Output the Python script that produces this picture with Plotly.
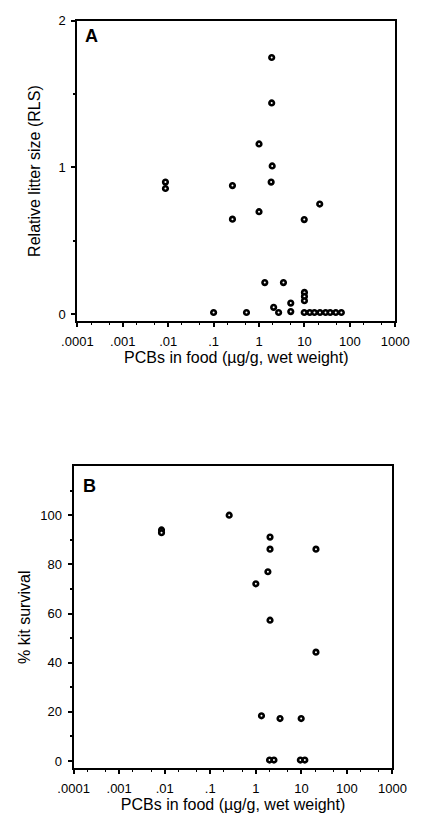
import plotly.graph_objects as go

# Panel A: relative litter size vs PCBs in food
a_pcb = [1.9, 1.9, 1.0, 1.95, 1.85, 0.0087, 0.0087, 0.26, 21.7,
         0.26, 1.0, 9.9, 1.34, 3.45, 10, 10, 10, 5.0, 5.0,
         0.1, 0.53, 2.1, 2.7,
         9.9, 13.1, 16.6, 22, 29.2, 36.9, 49, 65]
a_rls = [1.75, 1.44, 1.16, 1.01, 0.90, 0.90, 0.856, 0.876, 0.75,
         0.647, 0.698, 0.644, 0.214, 0.214, 0.147, 0.12, 0.09, 0.074, 0.016,
         0.01, 0.01, 0.045, 0.01,
         0.01, 0.01, 0.01, 0.01, 0.01, 0.01, 0.01, 0.01]

# Panel B: % kit survival vs PCBs in food
b_pcb = [0.0085, 0.0085, 0.26, 2.05, 2.05, 20.9, 1.84, 1.0,
         2.05, 20.9, 1.33, 3.4, 9.9, 2.0, 2.5, 9.5, 11.9]
b_surv = [94.0, 92.9, 100, 91.1, 86.2, 86.2, 77, 72.1,
          57.3, 44.3, 18.4, 17.3, 17.3, 0.4, 0.4, 0.4, 0.4]

x_tickvals = [0.0001, 0.001, 0.01, 0.1, 1, 10, 100, 1000]
x_ticktext = [".0001", ".001", ".01", ".1", "1", "10", "100", "1000"]
xtitle = "PCBs in food (µg/g, wet weight)"

FONT = "Liberation Sans, Arial, Helvetica, sans-serif"
W, H = 426, 819

marker = dict(symbol="circle", size=4.6, color="white",
              line=dict(color="black", width=2.6))

fig = go.Figure()
fig.add_trace(go.Scatter(x=a_pcb, y=a_rls, mode="markers", marker=marker,
                         xaxis="x", yaxis="y", showlegend=False))
fig.add_trace(go.Scatter(x=b_pcb, y=b_surv, mode="markers", marker=marker,
                         xaxis="x2", yaxis="y2", showlegend=False))

common_x = dict(type="log", range=[-4, 3], tickvals=x_tickvals, ticktext=x_ticktext,
                showline=True, linecolor="black", linewidth=2, mirror=True,
                ticks="outside", ticklen=4, tickcolor="black", tickwidth=1.5,
                showgrid=False, zeroline=False, ticklabelstandoff=3,
                tickfont=dict(family=FONT, size=13, color="black"),
                minor=dict(ticks="outside", ticklen=2, tickcolor="black", tickwidth=1),
                title=dict(text=xtitle, font=dict(family=FONT, size=16, color="black"),
                           standoff=4))
common_y = dict(showline=True, linecolor="black", linewidth=2, mirror=True,
                ticks="outside", ticklen=4, tickcolor="black", tickwidth=1.5,
                showgrid=False, zeroline=False, ticklabelstandoff=3,
                tickfont=dict(family=FONT, size=13, color="black"))

fig.update_layout(
    width=W, height=H,
    margin=dict(l=0, r=0, t=0, b=0),
    paper_bgcolor="white", plot_bgcolor="white",
    xaxis=dict(common_x, domain=[66 / W, 408 / W], anchor="y"),
    yaxis=dict(common_y, domain=[(H - 317) / H, (H - 14) / H], anchor="x",
               range=[-0.05, 2], tickvals=[0, 1, 2], ticktext=["0", "1", "2"],
               minor=dict(tickvals=[0.5, 1.5], ticks="outside", ticklen=2,
                          tickcolor="black"),
               title=dict(text="Relative litter size (RLS)",
                          font=dict(family=FONT, size=16, color="black"), standoff=14)),
    xaxis2=dict(common_x, domain=[62 / W, 405 / W], anchor="y2"),
    yaxis2=dict(common_y, domain=[(H - 768) / H, (H - 463) / H], anchor="x2",
                range=[-3, 120], tickvals=[0, 20, 40, 60, 80, 100],
                minor=dict(tickvals=[10, 30, 50, 70, 90, 110], ticks="outside", ticklen=2,
                           tickcolor="black"),
                title=dict(text="% kit survival",
                           font=dict(family=FONT, size=16, color="black"), standoff=6)),
    annotations=[
        dict(text="<b>A</b>", x=72 / W, y=(H - 29) / H, xref="paper", yref="paper",
             xanchor="left", yanchor="middle", showarrow=False,
             font=dict(family=FONT, size=18, color="black")),
        dict(text="<b>B</b>", x=70 / W, y=(H - 483) / H, xref="paper", yref="paper",
             xanchor="left", yanchor="middle", showarrow=False,
             font=dict(family=FONT, size=18, color="black")),
    ],
)

fig.write_html("out.html")
